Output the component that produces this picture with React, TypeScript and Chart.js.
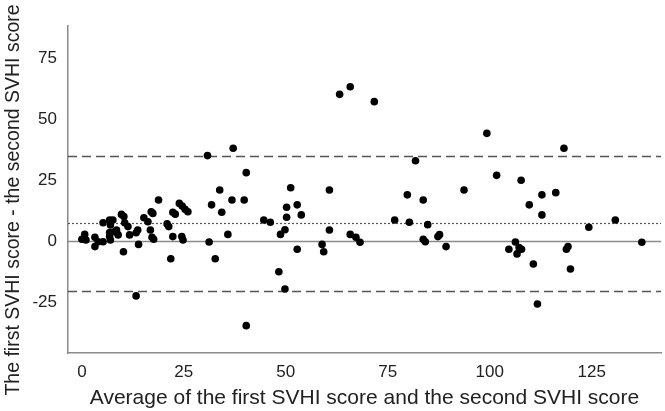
import { useEffect, useRef } from "react";
import { Chart, registerables } from "chart.js";

Chart.register(...registerables);

// Average of the two SVHI scores (x) and their difference (y)
const AVG_SCORES = [
  0, 0.7, 1, 3.2, 3.2, 4, 5.2, 5.2, 6.8, 7.6, 7, 6.8, 7, 6.8, 8, 8.5, 8.9, 9.7, 10.3, 10.5,
  11.3, 11.7, 10.2, 13.3, 13.7, 13.9, 13.3, 15.2, 16.2, 17, 17.4, 18.8, 16.8, 17.2, 17.6,
  20.9, 21.3, 22.3, 21.8, 22.3, 22.9, 23.9, 24.6, 25.3, 26, 24.5, 24.8, 30.8, 31.2, 31.8,
  32.7, 33.8, 34.3, 35.8, 36.8, 37.1, 39.8, 40.3, 40.3, 44.6, 46.2, 48.3, 49.8, 48.7, 49.8,
  50.2, 50.2, 51.2, 52.8, 53.8, 52.8, 58.9, 59.3, 60.7, 60.7, 63.2, 65.8, 65.8, 67.2, 68.2,
  71.7, 76.7, 79.8, 80.3, 81.8, 83.7, 84.8, 83.7, 84.2, 87.3, 87.7, 89.3, 93.7, 99.3, 101.7,
  104.7, 106.3, 107.2, 107.8, 106.7, 107.7, 109.7, 110.7, 111.7, 112.8, 112.8, 116.2, 118.2,
  118.8, 119.2, 119.8, 124.3, 130.8, 137.3,
];
const DIFF_SCORES = [
  0.7, 2.7, 0.4, 1.5, -2.3, -0.3, -0.3, 7.5, 8.6, 8.6, 6.6, 3.5, 0.4, 1.8, 3.8, 4.5, 2.5, 10.9, 10, 7.5,
  5.9, 2.5, -4.4, 3.4, 4.5, -1.4, -22.5, 9.5, 7.9, 12, 11.3, 16.8, 4.5, 1.5, 0.7,
  7, 5.9, 1.8, -7.3, 11.8, 11, 15.4, 14.3, 13, 12, 1.8, 0.4, 35, -0.4, 14.8,
  -7.3, 20.9, 11.8, 2.7, 16.8, 38, 16.8, 28, -34.7, 8.6, 7.7, -12.6, -19.7, 2.7, 4.6,
  9.7, 13.8, 21.8, 14.8, 10.7, -3.4, -1.4, -4.4, 20.9, 4.5, 60.1, 63.2, 2.7, 1.5, -0.5,
  57.1, 8.6, 18.9, 7.7, 32.9, 16.8, 6.7, 0.7, -0.3, 1.8, 2.6, -2.3, 20.9, 44.1, 26.9,
  -3.4, -0.4, -2.7, -3.4, -5.3, 24.9, 14.8, -9.4, -25.8, 18.9, 10.7, 19.8, 38,
  -3.4, -2.3, -11.5, 5.6, 8.6, -0.5,
];

const X_TICKS = [0, 25, 50, 75, 100, 125];
const Y_TICKS = [-25, 0, 25, 50, 75];

const ZERO_LINE = 0;
const MEAN_DIFF = 7.25;
const UPPER_LOA = 34.8;
const LOWER_LOA = -20.4;

const X_MIN = -3.4;
const X_MAX = 142;
const Y_MIN = -45.9;
const Y_MAX = 88.1;

const X_TITLE = "Average of the first SVHI score and the second SVHI score";
const Y_TITLE = "The first SVHI score - the second SVHI score";

const FONT = "'Liberation Sans', Arial, Helvetica, sans-serif";

const refLinesPlugin = {
  id: "refLines",
  beforeDatasetsDraw(chart: any) {
    const { ctx, chartArea, scales } = chart;
    const y = scales.y;
    const draw = (v: number, dash: number[], color: string, width: number) => {
      const py = Math.round(y.getPixelForValue(v)) + 0.5;
      ctx.save();
      ctx.beginPath();
      ctx.setLineDash(dash);
      ctx.strokeStyle = color;
      ctx.lineWidth = width;
      ctx.moveTo(chartArea.left, py);
      ctx.lineTo(chartArea.right, py);
      ctx.stroke();
      ctx.restore();
    };
    draw(ZERO_LINE, [], "#8a8a8a", 1.5);
    draw(MEAN_DIFF, [2, 2], "#555555", 1.2);
    draw(UPPER_LOA, [9, 5], "#555555", 1.5);
    draw(LOWER_LOA, [9, 5], "#555555", 1.5);
  },
};

const yTitlePlugin = {
  id: "yTitle",
  afterDraw(chart: any) {
    const { ctx } = chart;
    ctx.save();
    ctx.translate(14, 200);
    ctx.rotate(-Math.PI / 2);
    ctx.font = `19.5px ${FONT}`;
    ctx.fillStyle = "#222222";
    ctx.textAlign = "center";
    ctx.textBaseline = "middle";
    ctx.fillText(Y_TITLE, 0, 0);
    ctx.restore();
  },
};

export default function App() {
  const canvasRef = useRef<HTMLCanvasElement | null>(null);

  useEffect(() => {
    if (!canvasRef.current) return;
    const points = AVG_SCORES.map((x, i) => ({ x, y: DIFF_SCORES[i] }));
    const chart = new Chart(canvasRef.current, {
      type: "scatter",
      data: {
        datasets: [
          {
            data: points,
            backgroundColor: "#000000",
            borderColor: "#000000",
            pointRadius: 3.8,
            pointBorderWidth: 0,
          },
        ],
      },
      plugins: [refLinesPlugin, yTitlePlugin],
      options: {
        animation: false,
        responsive: true,
        maintainAspectRatio: false,
        layout: { padding: { top: 26, right: 2, left: 0, bottom: 0 } },
        plugins: { legend: { display: false }, tooltip: { enabled: false } },
        scales: {
          x: {
            type: "linear",
            min: X_MIN,
            max: X_MAX,
            afterBuildTicks: (s: any) => {
              s.ticks = X_TICKS.map((v) => ({ value: v }));
            },
            afterFit: (s: any) => {
              s.height = 58;
            },
            grid: { display: false, drawTicks: false },
            border: { display: true, color: "#8a8a8a", width: 1.5 },
            ticks: {
              font: { family: FONT, size: 17 },
              color: "#222222",
              padding: 9,
              maxRotation: 0,
            },
            title: {
              display: true,
              text: X_TITLE,
              font: { family: FONT, size: 21 },
              color: "#222222",
              padding: { top: 0, bottom: 0 },
            },
          },
          y: {
            type: "linear",
            min: Y_MIN,
            max: Y_MAX,
            afterBuildTicks: (s: any) => {
              s.ticks = Y_TICKS.map((v) => ({ value: v }));
            },
            afterFit: (s: any) => {
              s.width = 68;
            },
            grid: { display: false, drawTicks: false },
            border: { display: true, color: "#8a8a8a", width: 1.5 },
            ticks: {
              font: { family: FONT, size: 17 },
              color: "#222222",
              padding: 11,
            },
            title: { display: false },
          },
        },
      },
    });
    return () => chart.destroy();
  }, []);

  return (
    <div style={{ position: "fixed", left: 0, top: 0, width: 665, height: 411, background: "#fff" }}>
      <canvas ref={canvasRef} />
    </div>
  );
}
